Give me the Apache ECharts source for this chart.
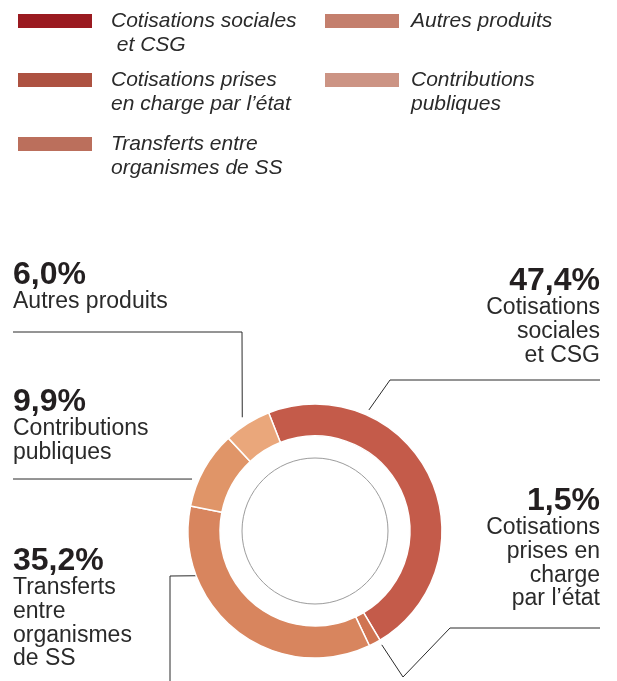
<!DOCTYPE html>
<html lang="fr">
<head>
<meta charset="utf-8">
<title>Structure des recettes</title>
<script src="https://cdn.jsdelivr.net/npm/echarts@6/dist/echarts.min.js"></script>
<style>
  html, body { margin: 0; padding: 0; background: #fff; }
  #chart { width: 617px; height: 681px; }
</style>
</head>
<body>
<div id="chart"></div>
<script>
// Revenue sources (share of total, %)
const categories = [
  'Cotisations sociales et CSG',
  'Cotisations prises en charge par l’état',
  'Transferts entre organismes de SS',
  'Contributions publiques',
  'Autres produits'
];
const shares = [47.4, 1.5, 35.2, 9.9, 6.0];

// Text shown in the legend and beside the ring
const legendLabels = [
  'Cotisations sociales\n et CSG',
  'Cotisations prises\nen charge par l’état',
  'Transferts entre\norganismes de SS',
  'Contributions\npubliques',
  'Autres produits'
];
const calloutLabels = [
  'Cotisations\nsociales\net CSG',
  'Cotisations\nprises en\ncharge\npar l’état',
  'Transferts\nentre\norganismes\nde SS',
  'Contributions\npubliques',
  'Autres produits'
];

// Colours
const ringColors = ['#c45b4a', '#d07452', '#d8855e', '#e09568', '#eaa77b'];
const keyColors = ['#9a1a20', '#ad5241', '#bb6f5c', '#cc9484', '#c47f6d'];

const FONT = '"Liberation Sans", Arial, Helvetica, sans-serif';
const CX = 315, CY = 531, R_IN = 95, R_OUT = 127;

// Callout placement: where each leader leaves the ring (angle clockwise
// from 12 o'clock, distance from centre), its route, and the text anchor.
const callouts = [
  { angle: 24,    r: 132.5, route: [[390, 380], [600, 380]],             x: 600, y: 267, align: 'right' },
  { angle: 149.6, r: 132,   route: [[403, 677], [450, 628], [600, 628]], x: 600, y: 487, align: 'right' },
  { angle: 249.2, r: 126,   route: [[170, 576], [170, 700]],             x: 13,  y: 547, align: 'left' },
  { angle: 292.9, r: 133.5, route: [[13, 479]],                          x: 13,  y: 388, align: 'left' },
  { angle: 327.4, r: 135,   route: [[242, 332], [13, 332]],              x: 13,  y: 261, align: 'left' }
];

function ringPoint(angleDeg, r) {
  const a = angleDeg * Math.PI / 180;
  return [CX + r * Math.sin(a), CY - r * Math.cos(a)];
}

function pct(v) {
  return v.toFixed(1).replace('.', ',') + '%';
}

// Legend placement (one block per entry)
const legendSlots = [
  { idx: 0, left: 16,  top: -15, textPad: 13 },
  { idx: 1, left: 16,  top: 44,  textPad: 13 },
  { idx: 2, left: 16,  top: 108, textPad: 13 },
  { idx: 4, left: 323, top: 9,   textPad: 6 },
  { idx: 3, left: 323, top: 44,  textPad: 6 }
];

const legends = legendSlots.map(function (s) {
  return {
    show: true,
    left: s.left,
    top: s.top,
    padding: 0,
    orient: 'vertical',
    selectedMode: false,
    itemWidth: 76,
    itemHeight: 16,
    icon: 'rect',
    data: [{ name: categories[s.idx], itemStyle: { color: keyColors[s.idx] } }],
    formatter: function (name) {
      const text = legendLabels[categories.indexOf(name)];
      // two-line entries: an empty leading line keeps the first line level with the swatch
      return text.indexOf('\n') >= 0 ? '\n' + text : text;
    },
    textStyle: {
      fontFamily: FONT,
      fontStyle: 'italic',
      fontSize: 21,
      lineHeight: 24,
      color: '#2a2a2a',
      padding: [0, 0, 0, s.textPad]
    }
  };
});

const chart = echarts.init(document.getElementById('chart'), null, { renderer: 'canvas' });

chart.setOption({
  animation: false,
  backgroundColor: '#ffffff',
  legend: legends,
  graphic: [{
    type: 'circle',
    shape: { cx: CX, cy: CY, r: 73 },
    style: { fill: 'none', stroke: '#9c9c9c', lineWidth: 1 },
    silent: true
  }],
  series: [{
    type: 'pie',
    center: [CX, CY],
    radius: [R_IN, R_OUT],
    startAngle: 111.4,
    clockwise: true,
    avoidLabelOverlap: false,
    silent: true,
    emphasis: { disabled: true },
    itemStyle: { borderColor: '#ffffff', borderWidth: 1.5 },
    data: categories.map(function (name, i) {
      return { name: name, value: shares[i], itemStyle: { color: ringColors[i] } };
    }),
    label: {
      show: true,
      position: 'outer',
      alignTo: 'none',
      formatter: function (p) {
        const lines = calloutLabels[p.dataIndex].split('\n').map(function (t) {
          return '{n|' + t + '}';
        });
        return '{p|' + pct(p.value) + '}\n' + lines.join('\n');
      },
      rich: {
        p: { fontFamily: FONT, fontSize: 32, fontWeight: 'bold', lineHeight: 29, color: '#231f20' },
        n: { fontFamily: FONT, fontSize: 23, lineHeight: 23.7, color: '#2a2a2a' }
      }
    },
    labelLine: {
      show: true,
      smooth: false,
      lineStyle: { color: '#2b2b2b', width: 1 }
    },
    labelLayout: function (params) {
      const c = callouts[params.dataIndex];
      const pts = [ringPoint(c.angle, c.r)].concat(c.route);
      return {
        x: c.x,
        y: c.y,
        align: c.align,
        verticalAlign: 'top',
        labelLinePoints: pts
      };
    }
  }]
});
</script>
</body>
</html>
